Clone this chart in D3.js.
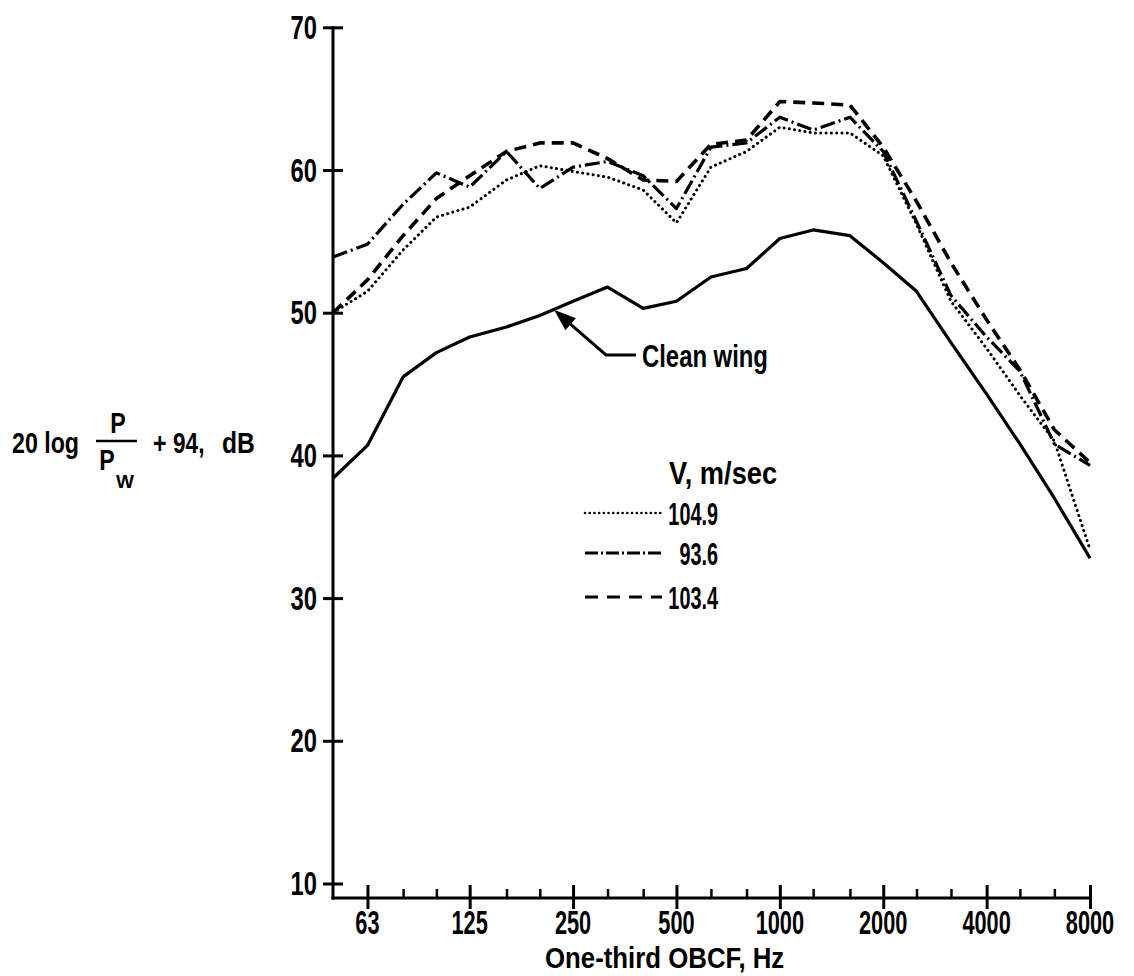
<!DOCTYPE html>
<html><head><meta charset="utf-8">
<script src="https://cdn.jsdelivr.net/npm/d3@7"></script>
<style>
body{margin:0;background:#fff;}
svg text{font-family:"Liberation Sans", Arial, sans-serif; fill:#000; font-weight:bold;}
</style></head>
<body>
<svg id="c" width="1134" height="976"></svg>
<script>
// ---- data ----
const freqs = [50,63,80,100,125,160,200,250,315,400,500,630,800,1000,1250,1600,2000,2500,3150,4000,5000,6300,8000];
const majorTicks = [63,125,250,500,1000,2000,4000,8000];
const minorTicks = [80,100,160,200,315,400,630,800,1250,1600,2500,3150,5000,6300];
const yTicks = [10,20,30,40,50,60,70];
const cleanWing = [38.4,40.7,45.5,47.2,48.3,49.0,49.8,50.8,51.8,50.3,50.8,52.5,53.1,55.2,55.8,55.4,53.5,51.5,47.9,44.3,40.8,37.0,32.8];
const v1049 = [50.0,51.5,54.4,56.7,57.4,59.3,60.3,59.9,59.5,58.6,56.3,60.2,61.3,63.0,62.6,62.6,61.0,56.2,50.8,47.5,44.2,41.0,33.4];
const v936  = [53.9,54.8,57.6,59.8,58.8,61.3,58.7,60.2,60.6,59.6,57.3,61.6,61.9,63.7,62.8,63.7,61.3,56.4,51.2,48.3,45.9,40.8,39.3];
const v1034 = [50.0,52.3,55.4,58.0,59.6,61.3,61.9,61.9,60.8,59.3,59.2,61.8,62.1,64.8,64.7,64.55,61.6,57.8,53.5,49.5,46.0,41.8,39.5];
const legendLabels = ["104.9","93.6","103.4"];
const legendTitle = "V,  m/sec";
const cleanLabel = "Clean wing";
const xTitle = "One-third OBCF,  Hz";
const arrowFreq = 220, arrowVal = 50.2;

// ---- layout ----
const svg = d3.select("#c");
const X0 = 333, X1 = 1090, AXY = 898;
const x = d3.scaleLog().domain([50, 8000]).range([X0, X1]);
const y = d3.scaleLinear().domain([10, 70]).range([883.5, 27.3]);

const styles = [
  {data: v1049, dash: "0.1,5.2", w: 3, cap: "round", ldash: "0.1,4.6", lw: 2.6},
  {data: v936,  dash: "15,4,2,4", w: 3.2, cap: "butt", ldash: "13,3,2,3", lw: 3.2},
  {data: v1034, dash: "12,7", w: 3.6, cap: "butt", ldash: "13,9", lw: 3.2}
];

function txt(x0, y0, s, size, sx, anchor) {
  return svg.append("text")
    .attr("transform", `translate(${x0},${y0}) scale(${sx},1)`)
    .attr("text-anchor", anchor || "start")
    .style("font-size", size + "px")
    .text(s);
}

// ---- axes ----
const yAxis = svg.append("g").attr("transform", `translate(${X0},0)`)
  .call(d3.axisLeft(y).tickValues(yTicks).tickSize(10).tickFormat(d3.format("d")));
yAxis.select(".domain").remove();
yAxis.selectAll(".tick line").attr("x1", -10).attr("x2", 10).attr("stroke", "#000").attr("stroke-width", 3);
yAxis.selectAll(".tick text").remove();
yTicks.forEach(t => txt(X0 - 16, y(t) + 11.5, String(t), 33, 0.72, "end"));
svg.append("line").attr("x1", X0).attr("x2", X0).attr("y1", AXY + 1.5).attr("y2", y(70) - 1)
  .attr("stroke", "#000").attr("stroke-width", 3);

const xAxis = svg.append("g").attr("transform", `translate(0,${AXY})`)
  .call(d3.axisBottom(x).tickValues(majorTicks).tickSize(10).tickFormat(d3.format("d")));
xAxis.select(".domain").remove();
xAxis.selectAll(".tick line").attr("y1", -13).attr("y2", 11).attr("stroke", "#000").attr("stroke-width", 3);
xAxis.selectAll(".tick text").remove();
majorTicks.forEach(t => txt(x(t), AXY + 36, String(t), 33, 0.66, "middle"));
const xMinor = svg.append("g").attr("transform", `translate(0,${AXY})`)
  .call(d3.axisBottom(x).tickValues(minorTicks).tickSize(0).tickFormat(""));
xMinor.select(".domain").remove();
xMinor.selectAll(".tick line").attr("y1", -9).attr("y2", 0).attr("stroke", "#000").attr("stroke-width", 2.5);
svg.append("line").attr("x1", X0 - 1.5).attr("x2", X1).attr("y1", AXY).attr("y2", AXY)
  .attr("stroke", "#000").attr("stroke-width", 3);

// axis titles
txt(545, 968, xTitle, 30, 0.86, "start");
txt(12, 453, "20 log", 29, 0.8, "start");
txt(118, 433, "P", 29, 0.8, "middle");
svg.append("line").attr("x1", 96).attr("x2", 137).attr("y1", 441).attr("y2", 441).attr("stroke", "#000").attr("stroke-width", 2.5);
txt(107, 470, "P", 29, 0.8, "middle");
txt(125, 488, "W", 19, 1.0, "middle");
txt(153, 453, "+", 29, 0.8, "start");
txt(173, 453, "94,", 29, 0.78, "start");
txt(222, 453, "dB", 29, 0.85, "start");

// ---- lines ----
const line = d3.line().x((d, i) => x(freqs[i])).y(d => y(d));
svg.append("path").datum(cleanWing).attr("d", line)
  .attr("fill", "none").attr("stroke", "#000").attr("stroke-width", 3.2).attr("stroke-linejoin", "round");
styles.forEach(s => {
  svg.append("path").datum(s.data).attr("d", line)
    .attr("fill", "none").attr("stroke", "#000").attr("stroke-width", s.w)
    .attr("stroke-dasharray", s.dash).attr("stroke-linecap", s.cap).attr("stroke-linejoin", "round");
});

// ---- clean wing annotation ----
const tipX = x(arrowFreq), tipY = y(arrowVal);
const elbowX = tipX + 52, elbowY = 355;
svg.append("path").attr("d", `M${tipX + 8},${tipY + 7}L${elbowX},${elbowY}L${elbowX + 30},${elbowY}`)
  .attr("fill", "none").attr("stroke", "#000").attr("stroke-width", 3);
const ang = Math.atan2(elbowY - tipY, elbowX - tipX);
const L = 22, W = 8;
const bx = tipX + L * Math.cos(ang), by = tipY + L * Math.sin(ang);
const px = -Math.sin(ang) * W, py = Math.cos(ang) * W;
svg.append("path").attr("d", `M${tipX},${tipY}L${bx + px},${by + py}L${bx - px},${by - py}Z`).attr("fill", "#000");
txt(elbowX + 36, elbowY + 12, cleanLabel, 31, 0.77, "start");

// ---- legend ----
txt(669, 484, legendTitle, 31, 0.88, "start");
const legY = [513, 553, 597];
styles.forEach((s, i) => {
  svg.append("line").attr("x1", 585).attr("x2", 662).attr("y1", legY[i]).attr("y2", legY[i])
    .attr("stroke", "#000").attr("stroke-width", s.lw).attr("stroke-dasharray", s.ldash).attr("stroke-linecap", s.cap);
  txt(718, legY[i] + 11.5, legendLabels[i], 32, 0.62, "end");
});
</script>
</body></html>
